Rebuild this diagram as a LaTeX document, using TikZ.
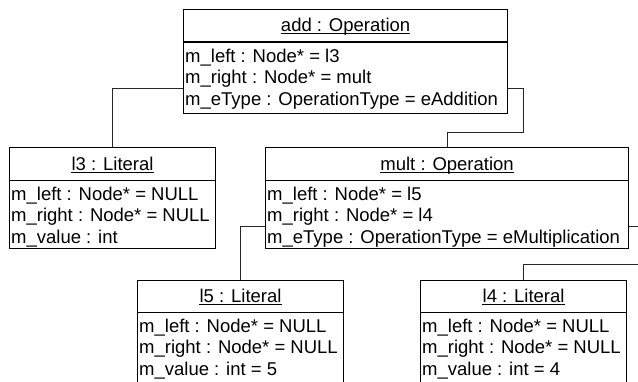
\documentclass[tikz,border=0pt]{standalone}
\usepackage{fontspec}
\setmainfont{Liberation Sans}
\begin{document}
\begin{tikzpicture}[x=1pt,y=-1pt,
  objbox/.style={draw=black, line width=1.2pt, rectangle, inner sep=0pt, anchor=north west},
  divider/.style={draw=black, line width=1.1pt},
  link/.style={draw=black!85, line width=0.8pt},
  uline/.style={draw=black, line width=0.9pt},
  hdr/.style={inner sep=0pt, anchor=base, font=\fontsize{18.5}{21.5}\selectfont},
  attr/.style={inner sep=0pt, anchor=base west, font=\fontsize{18.5}{21.5}\selectfont}]
\useasboundingbox (0,0) rectangle (638,381);
\clip (0,0) rectangle (638,381);

% object boxes
\node[objbox, minimum width=324pt, minimum height=104pt] (add)  at (183,9) {};
\node[objbox, minimum width=206pt, minimum height=101pt] (l3)   at (9,147) {};
\node[objbox, minimum width=363pt, minimum height=101pt] (mult) at (265,147) {};
\node[objbox, minimum width=206pt, minimum height=108pt] (l5)   at (137,279.5) {};
\node[objbox, minimum width=206pt, minimum height=108pt] (l4)   at (420,279.5) {};

% header dividers
\draw[divider] (add.west |- 0,42) -- (add.east |- 0,42);
\draw[divider] (l3.west |- 0,180.5) -- (l3.east |- 0,180.5);
\draw[divider] (mult.west |- 0,180.5) -- (mult.east |- 0,180.5);
\draw[divider] (l5.west |- 0,312.5) -- (l5.east |- 0,312.5);
\draw[divider] (l4.west |- 0,312.5) -- (l4.east |- 0,312.5);

% add : Operation
\node[hdr] (addT) at (add.north |- 0,31.5) {add : Operation};
\node[attr] (addA1) at (185,62) {m\_left : Node* = l3};
\node[attr] (addA2) at (185,83.5) {m\_right : Node* = mult};
\node[attr] (addA3) at (185,105) {m\_eType : OperationType = eAddition};

% l3 : Literal
\node[hdr] (l3T) at (l3.north |- 0,170) {l3 : Literal};
\node[attr] (l3A1) at (11,200) {m\_left : Node* = NULL};
\node[attr] (l3A2) at (11,221.5) {m\_right : Node* = NULL};
\node[attr] (l3A3) at (11,243) {m\_value : int};

% mult : Operation
\node[hdr] (multT) at (mult.north |- 0,170) {mult : Operation};
\node[attr] (multA1) at (267,200) {m\_left : Node* = l5};
\node[attr] (multA2) at (267,221.5) {m\_right : Node* = l4};
\node[attr] (multA3) at (267,243) {m\_eType : OperationType = eMultiplication};

% l5 : Literal
\node[hdr] (l5T) at (l5.north |- 0,302.5) {l5 : Literal};
\node[attr] (l5A1) at (139,332) {m\_left : Node* = NULL};
\node[attr] (l5A2) at (139,353.5) {m\_right : Node* = NULL};
\node[attr] (l5A3) at (139,375) {m\_value : int = 5};

% l4 : Literal
\node[hdr] (l4T) at (l4.north |- 0,302.5) {l4 : Literal};
\node[attr] (l4A1) at (422,332) {m\_left : Node* = NULL};
\node[attr] (l4A2) at (422,353.5) {m\_right : Node* = NULL};
\node[attr] (l4A3) at (422,375) {m\_value : int = 4};

% underlined object names
\foreach \t in {addT,l3T,multT,l5T,l4T}
  \draw[uline] ([yshift=-2.2pt]\t.base west) -- ([yshift=-2.2pt]\t.base east);

% links
\coordinate (addR) at (523,88);
\coordinate (multR) at (660,226);
\draw[link] (add.west |- 0,88) -| (l3.north);
\draw[link] (add.east |- 0,88) -- (addR) |- (mult.north |- 0,132) -- (mult.north);
\draw[link] (mult.west |- 0,226) -| (l5.north);
\draw[link] (mult.east |- 0,226) -- (multR) |- (l4.north |- 0,264) -- (l4.north);
\end{tikzpicture}
\end{document}
